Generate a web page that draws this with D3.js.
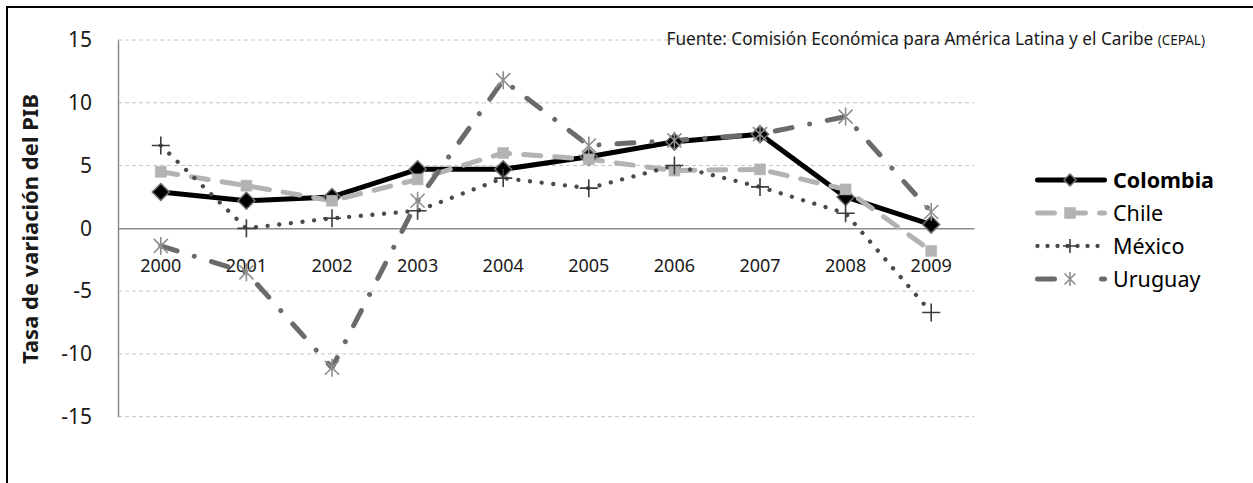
<!DOCTYPE html>
<html>
<head>
<meta charset="utf-8">
<script src="https://cdn.jsdelivr.net/npm/d3@7"></script>
<style>
  html, body { margin: 0; padding: 0; background: #fff; }
  svg { display: block; font-family: "Noto Sans", "Open Sans", sans-serif; }
</style>
</head>
<body>
<svg id="chart" width="1253" height="483"></svg>
<script>
const years = [2000, 2001, 2002, 2003, 2004, 2005, 2006, 2007, 2008, 2009];
const colombia = [2.9, 2.2, 2.5, 4.7, 4.7, 5.7, 6.9, 7.5, 2.5, 0.3];
const chile    = [4.5, 3.4, 2.2, 3.9, 6.0, 5.5, 4.6, 4.7, 3.1, -1.8];
const mexico   = [6.6, 0.0, 0.8, 1.4, 4.0, 3.2, 5.0, 3.3, 1.2, -6.7];
const uruguay  = [-1.4, -3.5, -11.1, 2.2, 11.8, 6.6, 7.0, 7.5, 8.9, 1.3];
const seriesNames = ["Colombia", "Chile", "México", "Uruguay"];
const yTicks = [-15, -10, -5, 0, 5, 10, 15];
const yTitle = "Tasa de variación del PIB";
const sourceMain = "Fuente: Comisión Económica para América Latina y el Caribe ";
const sourceAbbr = "(CEPAL)";

const svg = d3.select("#chart");
const plot = { left: 118, right: 974, top: 40, bottom: 416.7 };

const x = d3.scaleBand().domain(years).range([plot.left, plot.right]).padding(0);
const xc = d => x(d) + x.bandwidth() / 2;
const y = d3.scaleLinear().domain([-15, 15]).range([plot.bottom, plot.top]);

// outer border
svg.append("rect").attr("x", 7).attr("y", 7).attr("width", 1300).attr("height", 600)
  .attr("fill", "none").attr("stroke", "#000").attr("stroke-width", 2);

// gridlines
svg.append("g").selectAll("line").data(yTicks.filter(v => v !== 0)).join("line")
  .attr("x1", plot.left).attr("x2", plot.right)
  .attr("y1", d => y(d)).attr("y2", d => y(d))
  .attr("stroke", "#c4c4c4").attr("stroke-width", 1).attr("stroke-dasharray", "4,3");

// source text
const src = svg.append("text").attr("x", 1205).attr("y", 45).attr("text-anchor", "end")
  .attr("font-size", 17.2).attr("fill", "#1a1a1a");
src.append("tspan").text(sourceMain);
src.append("tspan").attr("font-size", 13.5).text(sourceAbbr);

// y axis
const yAxis = svg.append("g").attr("transform", `translate(${plot.left},0)`)
  .call(d3.axisLeft(y).tickValues(yTicks).tickSize(0).tickPadding(26).tickFormat(d => String(d)));
yAxis.select(".domain").attr("stroke", "#8c8c8c").attr("stroke-width", 1.5);
yAxis.selectAll("text").attr("font-size", 21).attr("fill", "#1a1a1a")
  .attr("font-family", "'Noto Sans', sans-serif");

// x axis at zero
const xAxis = svg.append("g").attr("transform", `translate(0,${y(0)})`)
  .call(d3.axisBottom(x).tickSize(0).tickPadding(31).tickFormat(d => String(d)));
xAxis.select(".domain").attr("stroke", "#8c8c8c").attr("stroke-width", 1.5);
xAxis.selectAll("text").attr("font-size", 18).attr("fill", "#1a1a1a")
  .attr("font-family", "'Noto Sans', sans-serif");

// y title
svg.append("text").attr("transform", `translate(38,229) rotate(-90)`)
  .attr("text-anchor", "middle").attr("font-size", 22).attr("font-weight", "bold")
  .attr("fill", "#1a1a1a").text(yTitle);

// marker path generators
const mk = {
  diamond: s => `M0,${-s}L${s},0L0,${s}L${-s},0Z`,
  square: s => `M${-s},${-s}H${s}V${s}H${-s}Z`,
  plus: s => `M${-s},0H${s}M0,${-s}V${s}`,
  star: s => { const a = s * 0.78; return `M${-a},${-a}L${a},${a}M${-a},${a}L${a},${-a}M0,${-s}V${s}`; }
};

const styles = [
  { data: colombia, color: "#000", width: 5, dash: null, cap: "round",
    marker: "diamond", mSize: 8.5, mFill: "#000", mStroke: "#6e6e6e", mSW: 1.5 },
  { data: chile, color: "#b3b3b3", width: 5, dash: "17,14", cap: "round",
    marker: "square", mSize: 5.5, mFill: "#b3b3b3", mStroke: "#b3b3b3", mSW: 0.5 },
  { data: mexico, color: "#4a4a4a", width: 4.3, dash: "0.01,11.7", cap: "round",
    marker: "plus", mSize: 9, mFill: "none", mStroke: "#3c3c3c", mSW: 1.6 },
  { data: uruguay, color: "#6b6b6b", width: 5, dash: "17,18,0.01,18", cap: "round",
    marker: "star", mSize: 9, mFill: "none", mStroke: "#8e8e8e", mSW: 1.6 }
];

const line = d3.line().x((d, i) => xc(years[i])).y(d => y(d));

const linesG = svg.append("g");
const markersG = svg.append("g");
styles.forEach((s, k) => {
  linesG.append("path").datum(s.data).attr("d", line)
    .attr("fill", "none").attr("stroke", s.color).attr("stroke-width", s.width)
    .attr("stroke-linecap", s.cap).attr("stroke-linejoin", "round")
    .attr("stroke-dasharray", s.dash);
  markersG.append("g").selectAll("path").data(s.data).join("path")
    .attr("transform", (d, i) => `translate(${xc(years[i])},${y(d)})`)
    .attr("d", mk[s.marker](s.mSize))
    .attr("fill", s.mFill).attr("stroke", s.mStroke).attr("stroke-width", s.mSW);
});

// legend
const legRows = [180, 213, 246, 279];
const legDash = ["", "17,14", "0.01,10", "17,47"];
const leg = svg.append("g");
styles.forEach((s, k) => {
  const yy = legRows[k];
  leg.append("path").attr("d", `M1037.5,${yy}H1104.5`)
    .attr("stroke", s.color).attr("stroke-width", s.width).attr("fill", "none")
    .attr("stroke-linecap", "round").attr("stroke-dasharray", legDash[k] || null);
  leg.append("path").attr("transform", `translate(1070,${yy})`)
    .attr("d", mk[s.marker](k === 0 ? 6 : s.marker === "square" ? 5.5 : 7))
    .attr("fill", s.mFill).attr("stroke", s.mStroke).attr("stroke-width", s.mSW);
  leg.append("text").attr("x", 1113).attr("y", yy + 7.5).attr("font-size", 21.5)
    .attr("font-weight", k === 0 ? "bold" : "normal").attr("fill", "#000")
    .text(seriesNames[k]);
});
</script>
</body>
</html>
